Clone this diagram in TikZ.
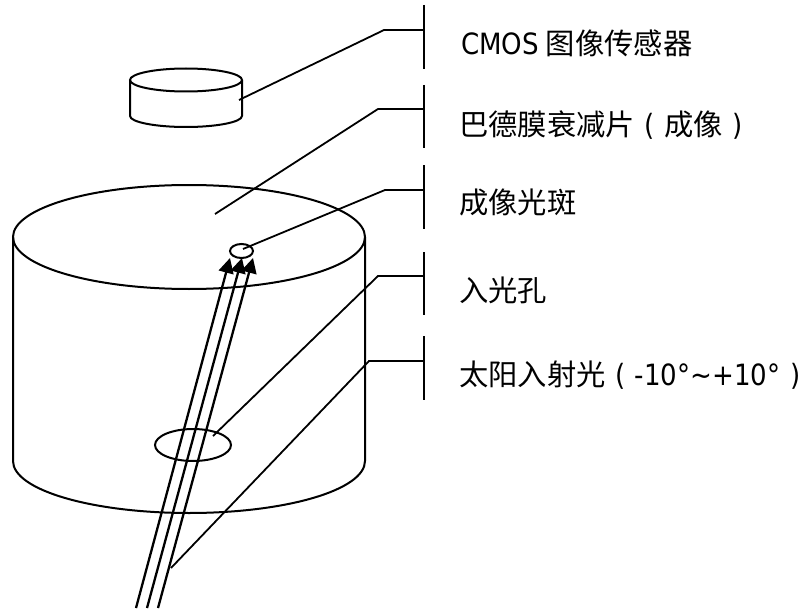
\documentclass[tikz,border=0pt]{standalone}
\usepackage{fontspec}
\setmainfont{Open Sans}
\newfontfamily\cjk{Noto Sans CJK SC}
\newfontfamily\latn[FakeStretch=0.89]{DejaVu Sans}
\usetikzlibrary{arrows.meta,shapes.geometric}
\newcommand{\cellp}[1]{\makebox[29.3pt][c]{#1}}
\tikzset{
  ln/.style={line width=2pt,black},
  lead/.style={line width=1.8pt,black,line join=miter},
  lab/.style={anchor=base west,inner sep=0pt,font=\fontsize{29.3pt}{32pt}\cjk},
  ray/.style={line width=2.3pt,-{Triangle[length=15pt,width=15pt]}},
  elli/.style={draw,ln,ellipse,inner sep=0pt,outer sep=0pt}
}
\begin{document}
\begin{tikzpicture}[x=1pt,y=-1pt]
\useasboundingbox (0,0) rectangle (803,615);
% small cylinder
\node[elli,minimum width=112pt,minimum height=23pt] (sensorTop) at (186,80) {};
\draw[ln] (130,80) -- (130,116) .. controls (130,122) and (155,127) .. (186,127) .. controls (217,127) and (242,122) .. (242,116) -- (242,80);
% large cylinder
\node[elli,minimum width=352pt,minimum height=104pt] (bigTop) at (189,237) {};
\draw[ln] (13,237) -- (13,461) .. controls (13,490) and (92,513) .. (189,513) .. controls (286,513) and (365,490) .. (365,461) -- (365,237);
% spot and hole
\node[elli,minimum width=23pt,minimum height=14pt] (spot) at (241.5,251) {};
\node[elli,minimum width=76pt,minimum height=32pt] (hole) at (193,445) {};
% rays
\coordinate (r1s) at (136,608); \coordinate (r1e) at (230,258);
\coordinate (r2s) at (147,608); \coordinate (r2e) at (242,258);
\coordinate (r3s) at (158,608); \coordinate (r3e) at (253,258);
\draw[ray] (r1s) -- (r1e);
\draw[ray] (r2s) -- (r2e);
\draw[ray] (r3s) -- (r3e);
% bars
\coordinate (b1a) at (424,5);   \coordinate (b1b) at (424,69);
\coordinate (b2a) at (424,85);  \coordinate (b2b) at (424,148);
\coordinate (b3a) at (424,165); \coordinate (b3b) at (424,229);
\coordinate (b4a) at (424,252); \coordinate (b4b) at (424,315);
\coordinate (b5a) at (424,336); \coordinate (b5b) at (424,400);
\foreach \n in {1,...,5} \draw[lead] (b\n a) -- (b\n b);
% leaders
\coordinate (l1a) at (424,30);  \coordinate (l1b) at (384,30);  \coordinate (l1c) at (239,100);
\coordinate (l2a) at (424,109); \coordinate (l2b) at (378,109); \coordinate (l2c) at (215,214);
\coordinate (l3a) at (424,190); \coordinate (l3b) at (385,190); \coordinate (l3c) at (243,249);
\coordinate (l4a) at (424,276); \coordinate (l4b) at (378,276); \coordinate (l4c) at (213,436);
\coordinate (l5a) at (424,361); \coordinate (l5b) at (369,361); \coordinate (l5c) at (171,568);
\foreach \n in {1,...,5} \draw[lead] (l\n a) -- (l\n b) -- (l\n c);
% labels
\node[lab] (t1) at (461,55) {{\latn\fontsize{29.3pt}{32pt}\selectfont CMOS}\hspace{7pt}图像传感器};
\node[lab] (t2) at (459,135.5) {巴德膜衰减片\cellp{\latn (}成像\cellp{\latn )}};
\node[lab] (t3) at (459,213) {成像光斑};
\node[lab] (t4) at (459,301) {入光孔};
\node[lab] (t5) at (459,385) {太阳入射光\cellp{\latn (}{\latn -10°\textasciitilde+10°}\cellp{\latn )}};
\end{tikzpicture}
\end{document}
